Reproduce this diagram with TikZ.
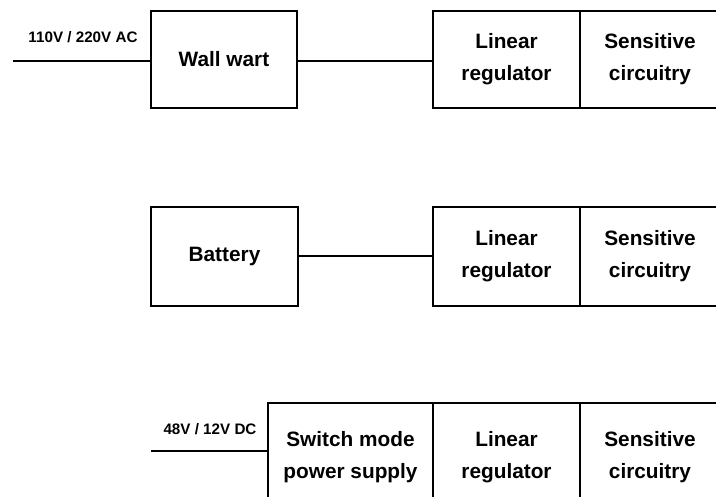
\documentclass[tikz,border=0pt]{standalone}
\usepackage{fontspec}
\setmainfont{Liberation Sans}
\begin{document}
\begin{tikzpicture}[x=1pt,y=-1pt,
  blk/.style={draw=black,line width=1.6pt,fill=white,minimum width=#1,inner sep=0pt,align=center,
    font=\bfseries\fontsize{20.8}{32}\selectfont},
  blk/.default=147pt,
  wire/.style={line width=1.5pt},
  lbl/.style={font=\bfseries\fontsize{15.2}{16}\selectfont,inner sep=0pt}]
\useasboundingbox (0,0) rectangle (716,497);
\fill[white] (0,0) rectangle (716,497);
% Row 1
\node[blk=146pt,minimum height=97pt] (ww) at (224,59.5) {Wall wart};
\node[blk,minimum height=97pt] (lr1) at (506.5,59.5) {Linear\\regulator};
\node[blk=140pt,minimum height=97pt] (sc1) at (650,59.5) {Sensitive\\circuitry};
\coordinate (in1) at (13,61);
\draw[wire] (in1) -- (in1 -| ww.west);
\draw[wire] (ww.east |- 0,61) -- (lr1.west |- 0,61);
\node[lbl] (v1) at (83,37) {110V / 220V AC};
% Row 2
\node[blk=147pt,minimum height=99pt] (bat) at (224.5,256.5) {Battery};
\node[blk,minimum height=99pt] (lr2) at (506.5,256.5) {Linear\\regulator};
\node[blk=140pt,minimum height=99pt] (sc2) at (650,256.5) {Sensitive\\circuitry};
\draw[wire] (bat.east |- 0,256) -- (lr2.west |- 0,256);
% Row 3
\node[blk=165pt,minimum height=108pt] (smps) at (350.5,457) {Switch mode\\power supply};
\node[blk,minimum height=108pt] (lr3) at (506.5,457) {Linear\\regulator};
\node[blk=140pt,minimum height=108pt] (sc3) at (650,457) {Sensitive\\circuitry};
\coordinate (in3) at (151,451);
\draw[wire] (in3) -- (in3 -| smps.west);
\node[lbl] (v3) at (210,429) {48V / 12V DC};
\end{tikzpicture}
\end{document}
